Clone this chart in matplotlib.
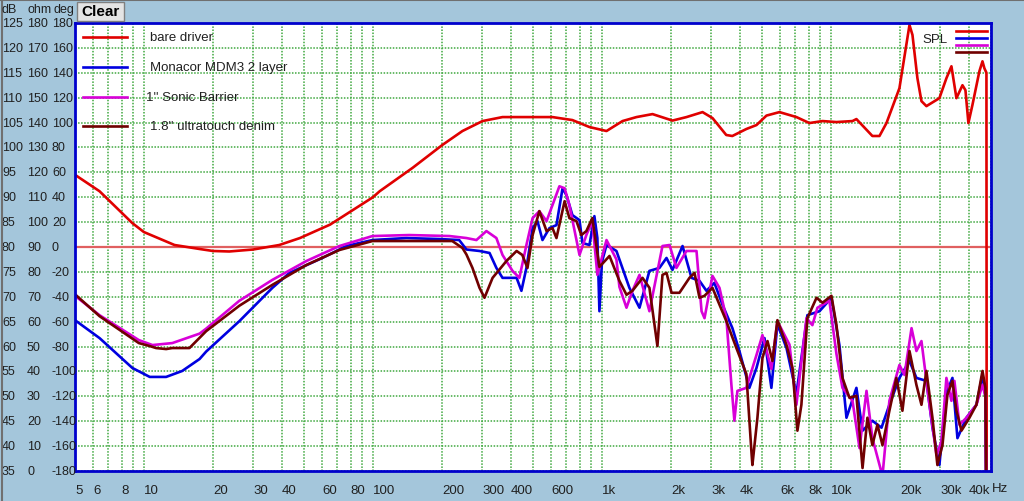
import matplotlib
matplotlib.use('Agg')
import matplotlib.pyplot as plt
from matplotlib.patches import Rectangle
from matplotlib.lines import Line2D
import matplotlib.transforms as mtransforms
import numpy as np

plt.rcParams['font.family'] = ['Liberation Sans', 'DejaVu Sans']

# --- series (frequency in Hz, level in dB) ---
bare_f = [5, 6.4, 8.9, 10, 13.6, 17.5, 20, 23.6, 30, 39, 48, 65, 100, 107, 149, 201, 246, 301,
          368, 608, 743, 882, 1047, 1230, 1415, 1663, 2033, 2340, 2750, 3040, 3490, 3710, 4270,
          4730, 5230, 5960, 7070, 8050, 9190, 10570, 12420, 12920, 15170, 16290, 17480, 19910,
          22030, 22700, 23860, 24850, 26120, 29760, 31930, 33590, 35320, 37530, 38670, 39840,
          41470, 44490, 45890, 46790, 47760, 47900]
bare_db = [94.5, 91.2, 84.8, 83.0, 80.4, 79.6, 79.2, 79.1, 79.5, 80.4, 81.8, 84.5, 90.0, 91.2,
           95.9, 100.5, 103.3, 105.3, 106.1, 106.1, 105.5, 104.1, 103.3, 105.3, 106.1, 106.7,
           105.4, 106.1, 107.1, 105.9, 102.5, 102.3, 103.7, 104.5, 106.4, 107.1, 106.1, 104.9,
           105.3, 105.1, 105.3, 105.7, 102.3, 102.3, 104.9, 111.9, 124.6, 122.6, 113.9, 109.3,
           108.3, 109.9, 113.9, 116.3, 109.9, 112.5, 111.5, 104.9, 108.5, 115.3, 117.3, 115.9,
           115.0, 20]

monacor_f = [5, 6.4, 8.9, 10.6, 12.5, 14.7, 17.5, 18.7, 26.1, 36.4, 43.2, 60.1, 76.6, 99.5, 140,
             195, 238, 256, 292, 323, 346, 368, 424, 445, 468, 498, 523, 550, 590, 633, 673, 700,
             743, 798, 822, 882, 927, 955, 975, 1000, 1047, 1157, 1318, 1459, 1612, 1783, 1914,
             2033, 2249, 2461, 2667, 2860, 3098, 3360, 3713, 3984, 4403, 4730, 5127, 5495, 5838,
             6397, 7066, 7890, 8913, 10050, 10890, 11690, 12920, 13740, 15170, 16630, 18000,
             19910, 22030, 23620, 26120, 27750, 29760, 31930, 33930, 35680, 39050, 43180, 45890,
             47270, 47760]
monacor_db = [65.3, 61.7, 55.7, 53.9, 53.9, 55.1, 57.5, 59.0, 65.1, 71.8, 74.8, 77.8, 80.2, 81.4,
              81.8, 81.6, 81.4, 79.5, 79.2, 78.8, 75.8, 73.8, 73.8, 71.2, 75.8, 83.8, 85.2, 81.4,
              83.8, 84.4, 91.8, 90.4, 86.4, 85.4, 80.8, 80.4, 86.2, 81.8, 67.1, 77.0, 80.4, 79.2,
              71.8, 67.8, 75.2, 75.8, 77.8, 75.4, 80.2, 73.8, 73.2, 71.2, 72.8, 68.4, 63.7, 59.1,
              51.7, 55.7, 61.7, 51.7, 64.5, 59.7, 50.5, 66.3, 67.1, 69.8, 60.3, 45.7, 51.7, 43.1,
              45.1, 43.7, 48.3, 53.7, 57.1, 53.7, 53.1, 43.7, 36.2, 50.7, 53.7, 41.6, 45.7, 48.3,
              54.3, 50.0, 20]

sonic_f = [5, 6.4, 9.5, 10.9, 13.3, 17.5, 18.7, 26.1, 36.4, 51.3, 71.4, 99.5, 144, 216, 256,
           283, 313, 346, 368, 407, 436, 468, 498, 533, 573, 608, 652, 687, 721, 798, 855, 908,
           955, 1047, 1157, 1192, 1280, 1359, 1459, 1612, 1838, 1973, 2115, 2339, 2588, 2723,
           2805, 3038, 3260, 3494, 3676, 3788, 3905, 4272, 4730, 5022, 5495, 5838, 6590, 7066,
           7817, 8300, 8730, 9845, 10570, 11230, 12420, 13330, 14300, 15170, 16790, 18000, 19910,
           20950, 22490, 23620, 24850, 26930, 28910, 30380, 31930, 33590, 34610, 36410, 39050,
           43180, 45890, 47270, 47760]
sonic_db = [70.2, 66.3, 61.3, 60.3, 60.7, 62.6, 63.6, 69.2, 73.4, 77.2, 80.2, 82.2, 82.4, 82.2,
            81.8, 81.4, 83.2, 81.8, 78.4, 75.2, 73.8, 80.4, 85.8, 87.2, 85.2, 88.4, 92.2, 91.8,
            88.4, 78.4, 82.4, 85.2, 74.4, 81.4, 77.5, 72.0, 67.8, 71.2, 74.4, 67.1, 80.2, 80.4,
            75.8, 79.2, 79.2, 67.1, 65.7, 74.2, 71.8, 65.7, 52.3, 45.1, 51.1, 51.7, 58.3, 62.3,
            55.5, 65.1, 60.4, 48.3, 65.7, 64.3, 67.8, 69.2, 58.5, 51.7, 49.1, 39.6, 51.1, 41.6,
            34.0, 49.1, 56.3, 54.3, 63.7, 59.1, 61.1, 48.3, 38.2, 41.0, 53.7, 49.1, 53.1, 44.3,
            45.7, 48.3, 52.3, 50.0, 20]

denim_f = [5, 6.4, 9.5, 10.6, 11.3, 12.5, 13.3, 15.8, 18.7, 26.1, 36.4, 51.3, 71.4, 99.5, 195,
           222, 246, 256, 272, 292, 307, 333, 383, 424, 449, 473, 498, 533, 573, 608, 633, 687,
           721, 774, 813, 855, 908, 975, 1079, 1192, 1280, 1359, 1504, 1612, 1747, 1838, 1914,
           2014, 2180, 2411, 2536, 2667, 2805, 3038, 3494, 3865, 4272, 4494, 4540, 4775, 5022,
           5284, 5555, 5838, 6397, 6792, 7139, 7430, 7890, 8650, 9185, 10050, 10570, 11230,
           12050, 12920, 13740, 14430, 15170, 15960, 16790, 18000, 19310, 20520, 22030, 23620,
           24850, 26120, 27750, 29170, 30690, 32260, 33930, 35320, 37150, 40250, 43180, 45890,
           47270, 47760]
denim_db = [70.5, 66.1, 60.7, 60.1, 59.7, 59.5, 59.7, 59.7, 63.1, 68.2, 72.4, 76.4, 79.4, 81.2,
            81.2, 81.2, 79.8, 78.5, 75.8, 71.8, 69.8, 73.8, 77.2, 79.2, 78.4, 75.8, 82.4, 87.2,
            83.2, 83.8, 81.8, 89.2, 85.8, 85.2, 82.4, 83.2, 85.8, 76.0, 78.2, 73.2, 70.4, 71.2,
            73.8, 71.8, 60.1, 74.4, 74.8, 70.8, 70.8, 73.8, 74.8, 69.8, 70.2, 71.8, 65.1, 59.7,
            54.5, 39.0, 36.2, 45.7, 57.7, 61.1, 57.1, 65.3, 60.3, 55.7, 43.1, 48.3, 65.7, 69.8,
            68.8, 70.2, 64.3, 53.7, 49.7, 50.1, 35.6, 45.7, 40.2, 44.3, 40.2, 47.1, 53.7, 47.1,
            59.1, 52.3, 48.3, 55.1, 45.7, 36.2, 40.2, 50.3, 53.1, 47.1, 43.1, 45.7, 48.3, 55.1,
            51.7, 20]

series_names = ['bare driver', 'Monacor MDM3 2 layer', "1'' Sonic Barrier", "1.8'' ultratouch denim"]
series_f = [bare_f, monacor_f, sonic_f, denim_f]
series_db = [bare_db, monacor_db, sonic_db, denim_db]
series_colors = ['#E00000', '#0000E0', '#D800D8', '#700000']

x_tick_vals = [5, 6, 8, 10, 20, 30, 40, 60, 80, 100, 200, 300, 400, 600, 1000, 2000, 3000, 4000,
               6000, 8000, 10000, 20000, 30000, 40000]
x_tick_labels = ['5', '6', '8', '10', '20', '30', '40', '60', '80', '100', '200', '300', '400',
                 '600', '1k', '2k', '3k', '4k', '6k', '8k', '10k', '20k', '30k', '40k']
db_ticks = list(range(35, 126, 5))
ohm_ticks = list(range(0, 181, 10))
deg_ticks = list(range(-180, 181, 20))

W, H = 1024, 502
bg = '#A4C6DB'
txt = '#202020'
fig = plt.figure(figsize=(W / 100, H / 100), dpi=100, facecolor=bg)
ax = fig.add_axes([75 / W, 1 - 472 / H, 916 / W, 448 / H])
ax.set_facecolor('white')
ax.set_xscale('log')
ax.set_xlim(5, 50000)
ax.set_ylim(35, 125)

# grid: every 5 dB, every 1..9 x decade
grid_f = [m * d for d in [1, 10, 100, 1000, 10000] for m in range(1, 10) if 5 <= m * d <= 50000]
ax.set_xticks(grid_f)
ax.set_xticks([], minor=True)
ax.set_xticklabels([x_tick_labels[x_tick_vals.index(f)] if f in x_tick_vals else '' for f in grid_f],
                   fontsize=9.5, color=txt)
for lab in ax.get_xticklabels():
    lab.set_horizontalalignment('left')
ax.set_yticks(db_ticks)
ax.set_yticklabels([])
ax.tick_params(length=0, pad=9)
ax.grid(True, color='#40A840', linestyle=(0, (1, 1)), linewidth=1.1)
ax.set_axisbelow(True)

for s in ax.spines.values():
    s.set_color('#0000CC')
    s.set_linewidth(2)

ax.axhline(80, color='#E06060', linewidth=1.6, zorder=1.5)

for f, d, c in zip(series_f, series_db, series_colors):
    ax.plot(f, d, color=c, linewidth=1.9, zorder=2, solid_joinstyle='round')

# left value columns (dB / ohm / deg)
tr = mtransforms.blended_transform_factory(fig.transFigure, ax.transData)
for col_x, vals in [(2, db_ticks), (27, ohm_ticks), (52, deg_ticks)]:
    for yv, v in zip(db_ticks, vals):
        ax.text(col_x / W, yv, str(v), transform=tr, ha='left', va='center', fontsize=9,
                color=txt, clip_on=False)
for col_x, h in [(2, 'dB'), (27, 'ohm'), (54, 'deg')]:
    fig.text(col_x / W, 1 - 10 / H, h, ha='left', va='center', fontsize=9, color=txt)
fig.text(992 / W, 1 - 489 / H, 'Hz', ha='left', va='center', fontsize=9.5, color=txt)

# "Clear" button
fig.patches.append(Rectangle((77 / W, 1 - 22 / H), 47 / W, 19 / H, transform=fig.transFigure,
                             facecolor='#E4E4E4', edgecolor='#808080', linewidth=1))
fig.text(100 / W, 1 - 12.5 / H, 'Clear', ha='center', va='center', fontsize=11,
         fontweight='bold', color='black')

# frame edge of the window
fig.add_artist(Line2D([0, 1], [1 - 0.5 / H, 1 - 0.5 / H], transform=fig.transFigure,
                      color='#707070', linewidth=1.5))
fig.add_artist(Line2D([1.5 / W, 1.5 / W], [0, 1], transform=fig.transFigure,
                      color='#707070', linewidth=1.5))

# legend (top left inside plot)
legend_y = [38, 68, 98, 127]
legend_tx = [150, 150, 146, 150]
for name, c, ly, tx in zip(series_names, series_colors, legend_y, legend_tx):
    yy = 1 - (ly - 24) / 448
    ax.plot([(83 - 75) / 916, (127 - 75) / 916], [yy, yy], transform=ax.transAxes,
            color=c, linewidth=1.9, clip_on=False)
    ax.text((tx - 75) / 916, yy, name, transform=ax.transAxes, ha='left', va='center',
            fontsize=9.5, color=txt)

# SPL legend (top right)
ax.text((948 - 75) / 916, 1 - (40 - 24) / 448, 'SPL', transform=ax.transAxes, ha='right',
        va='center', fontsize=9.5, color=txt)
for c, ly in zip(series_colors, [32, 39, 46, 53]):
    yy = 1 - (ly - 24) / 448
    ax.plot([(956 - 75) / 916, (987 - 75) / 916], [yy, yy], transform=ax.transAxes,
            color=c, linewidth=1.9)

fig.savefig('out.png', dpi=100, facecolor=bg)
